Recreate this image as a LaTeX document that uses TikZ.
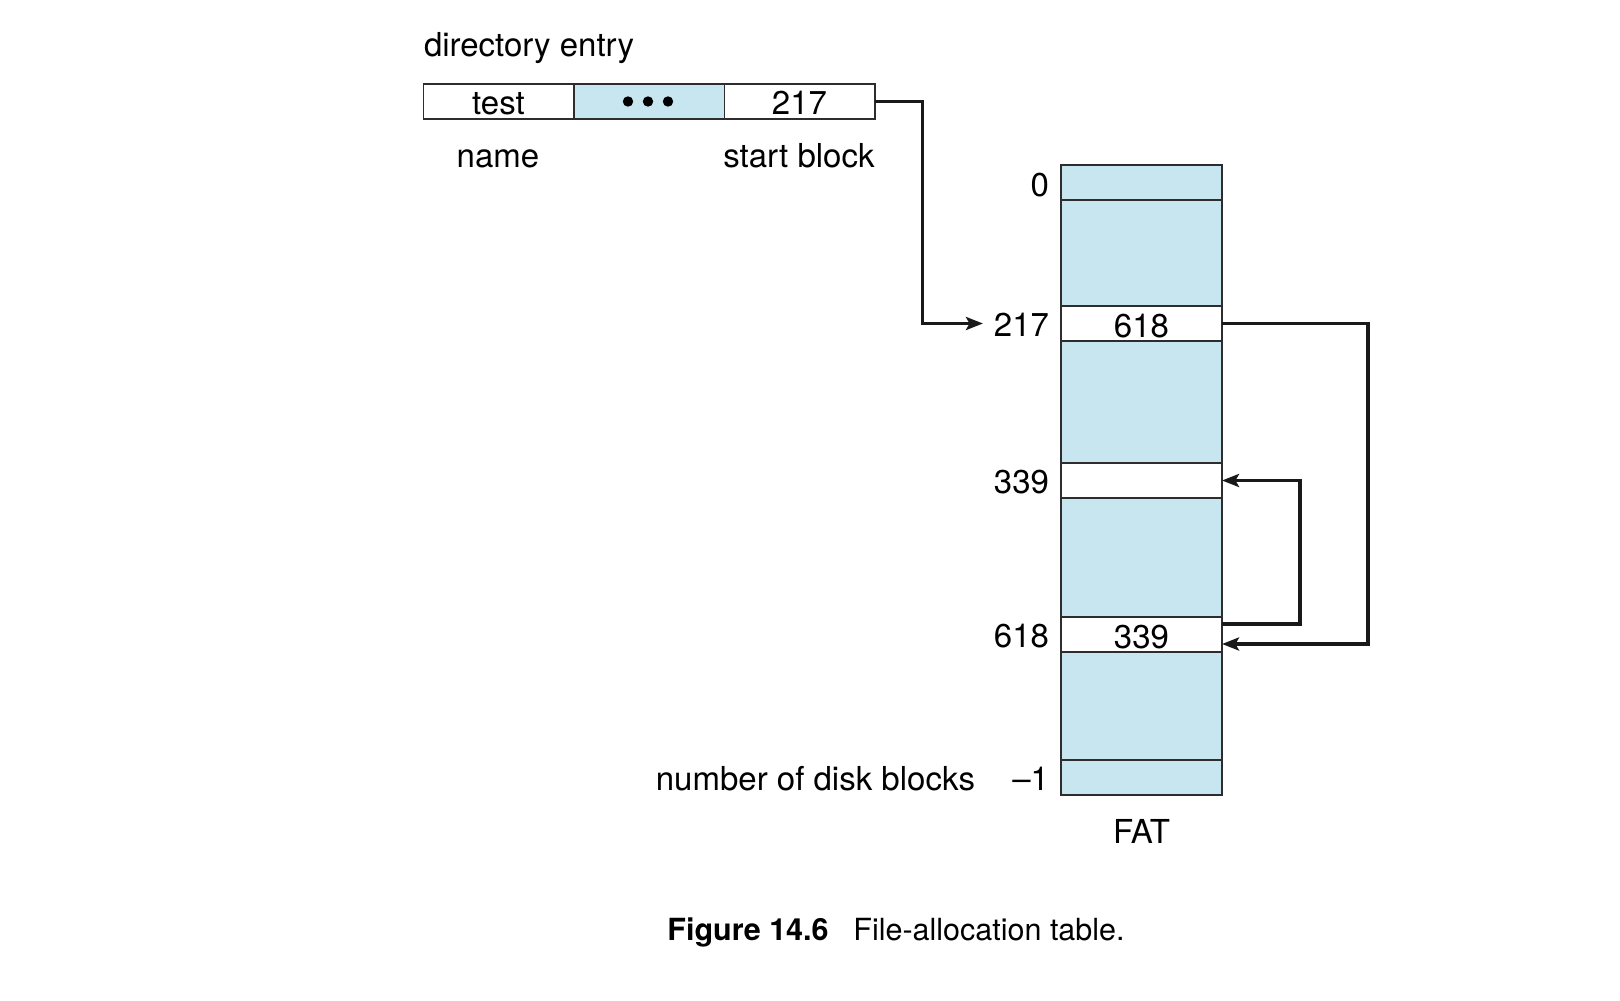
\documentclass[tikz,border=0pt]{standalone}
\usepackage{fontspec}
\setmainfont{TeX Gyre Heros}
\usetikzlibrary{arrows.meta}
\definecolor{fatblue}{RGB}{200,230,239}
\definecolor{edgegray}{RGB}{45,45,45}
\begin{document}
\begin{tikzpicture}[x=0.5pt,y=-0.5pt,
  cell/.style={draw=edgegray,line width=0.75pt,inner sep=0pt,outer sep=0pt,minimum width=75.25pt,minimum height=17.5pt,text height=13.5pt,text depth=0pt,font=\fontsize{16.5}{19.8}\selectfont},
  fatcell/.style={draw=edgegray,line width=0.75pt,inner sep=0pt,outer sep=0pt,minimum width=80.5pt,text height=13.5pt,text depth=0pt,font=\fontsize{16.5}{19.8}\selectfont},
  txt/.style={inner sep=0pt,outer sep=0pt,font=\fontsize{16.5}{19.8}\selectfont},
  link/.style={line width=1.7pt,draw=black!90,-{Stealth[length=8.5pt,width=6.5pt,inset=1.8pt]}}
]
\useasboundingbox (0,0) rectangle (1620,1000);

% directory entry
\node[txt,anchor=base west] (lde) at (424,57) {directory entry};
\node[cell,fill=white] (d1) at (498.5,101.5) {test};
\node[cell,fill=fatblue] (d2) at (649,101.5) {};
\node[cell,fill=white] (d3) at (799.5,101.5) {217};
\fill (628,101.5) circle (2.6pt);
\fill (648,101.5) circle (2.6pt);
\fill (668,101.5) circle (2.6pt);
\node[txt,anchor=base] (lname) at (498,168) {name};
\node[txt,anchor=base] (lstart) at (799,168) {start block};

% FAT
\node[fatcell,fill=fatblue,minimum height=17.5pt] (r0) at (1141.5,182.5) {};
\node[fatcell,fill=fatblue,minimum height=53pt] (g1) at (1141.5,253) {};
\node[fatcell,fill=white,minimum height=17.5pt] (r217) at (1141.5,323.5) {618};
\node[fatcell,fill=fatblue,minimum height=61pt] (g2) at (1141.5,402) {};
\node[fatcell,fill=white,minimum height=17.5pt] (r339) at (1141.5,480.5) {};
\node[fatcell,fill=fatblue,minimum height=59.5pt] (g3) at (1141.5,557.5) {};
\node[fatcell,fill=white,minimum height=17.5pt] (r618) at (1141.5,634.5) {339};
\node[fatcell,fill=fatblue,minimum height=54pt] (g4) at (1141.5,706) {};
\node[fatcell,fill=fatblue,minimum height=17.5pt] (rl) at (1141.5,777.5) {};

% row labels
\node[txt,anchor=east] (l0) at (1049,185) {0};
\node[txt,anchor=east] (l217) at (1049,324.5) {217};
\node[txt,anchor=east] (l339) at (1049,482.5) {339};
\node[txt,anchor=east] (l618) at (1049,636.5) {618};
\node[txt,anchor=base east] (lm1) at (1049,790) {\textendash 1};
\node[txt,anchor=base east] (lnum) at (975,790) {number of disk blocks};
\node[txt,anchor=base] (lfat) at (1141.5,843) {FAT};

% caption
\node[inner sep=0pt,anchor=base west,font=\fontsize{15.25}{18}\selectfont\bfseries] (cap1) at (667,940) {Figure 14.6};
\node[inner sep=0pt,anchor=base west,font=\fontsize{15.25}{18}\selectfont] (cap2) at (853,940) {File-allocation table.};

% connectors
\draw[link] (d3.east) -- ++(48,0) |- ([xshift=-5.5pt,yshift=0.5pt]l217.west);
\draw[link] (r217.east) -- ++(146,0) |- ([yshift=-4.75pt]r618.east);
\draw[link] ([yshift=5.25pt]r618.east) -- ++(78,0) |- (r339.east);
\end{tikzpicture}
\end{document}
